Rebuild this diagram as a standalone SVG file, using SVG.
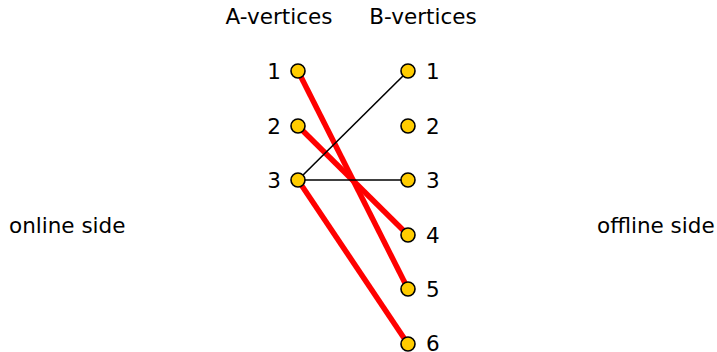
<svg xmlns="http://www.w3.org/2000/svg" width="717" height="352" viewBox="0 0 717 352">
<style>
text{font-family:"DejaVu Sans",sans-serif;font-size:21.5px;fill:#000}
.node circle{fill:#ffcc00;stroke:#000;stroke-width:1.6}
.red{stroke:#ff0000;stroke-width:5.5;fill:none}
.blk{stroke:#000;stroke-width:1.6;fill:none}
.l{text-anchor:end}
</style>
<rect width="717" height="352" fill="#fff"/>
<text x="279" y="24" text-anchor="middle">A-vertices</text>
<text x="423" y="24" text-anchor="middle">B-vertices</text>
<text x="9" y="233">online side</text>
<text x="597" y="233">offline side</text>
<g id="connectors">
<line class="red" x1="298" y1="71" x2="408" y2="289"/>
<line class="red" x1="298" y1="126" x2="408" y2="235"/>
<line class="red" x1="298" y1="180" x2="408" y2="344"/>
<line class="blk" x1="298" y1="180" x2="408" y2="71"/>
<line class="blk" x1="298" y1="180" x2="408" y2="180"/>
</g>
<g id="a1" class="node"><circle cx="298" cy="71" r="7"/><text class="l" x="281" y="79">1</text></g>
<g id="a2" class="node"><circle cx="298" cy="126" r="7"/><text class="l" x="281" y="134">2</text></g>
<g id="a3" class="node"><circle cx="298" cy="180" r="7"/><text class="l" x="281" y="188">3</text></g>
<g id="b1" class="node"><circle cx="408" cy="71" r="7"/><text x="426" y="79">1</text></g>
<g id="b2" class="node"><circle cx="408" cy="126" r="7"/><text x="426" y="134">2</text></g>
<g id="b3" class="node"><circle cx="408" cy="180" r="7"/><text x="426" y="188">3</text></g>
<g id="b4" class="node"><circle cx="408" cy="235" r="7"/><text x="426" y="243">4</text></g>
<g id="b5" class="node"><circle cx="408" cy="289" r="7"/><text x="426" y="297">5</text></g>
<g id="b6" class="node"><circle cx="408" cy="344" r="7"/><text x="426" y="351">6</text></g>
</svg>
